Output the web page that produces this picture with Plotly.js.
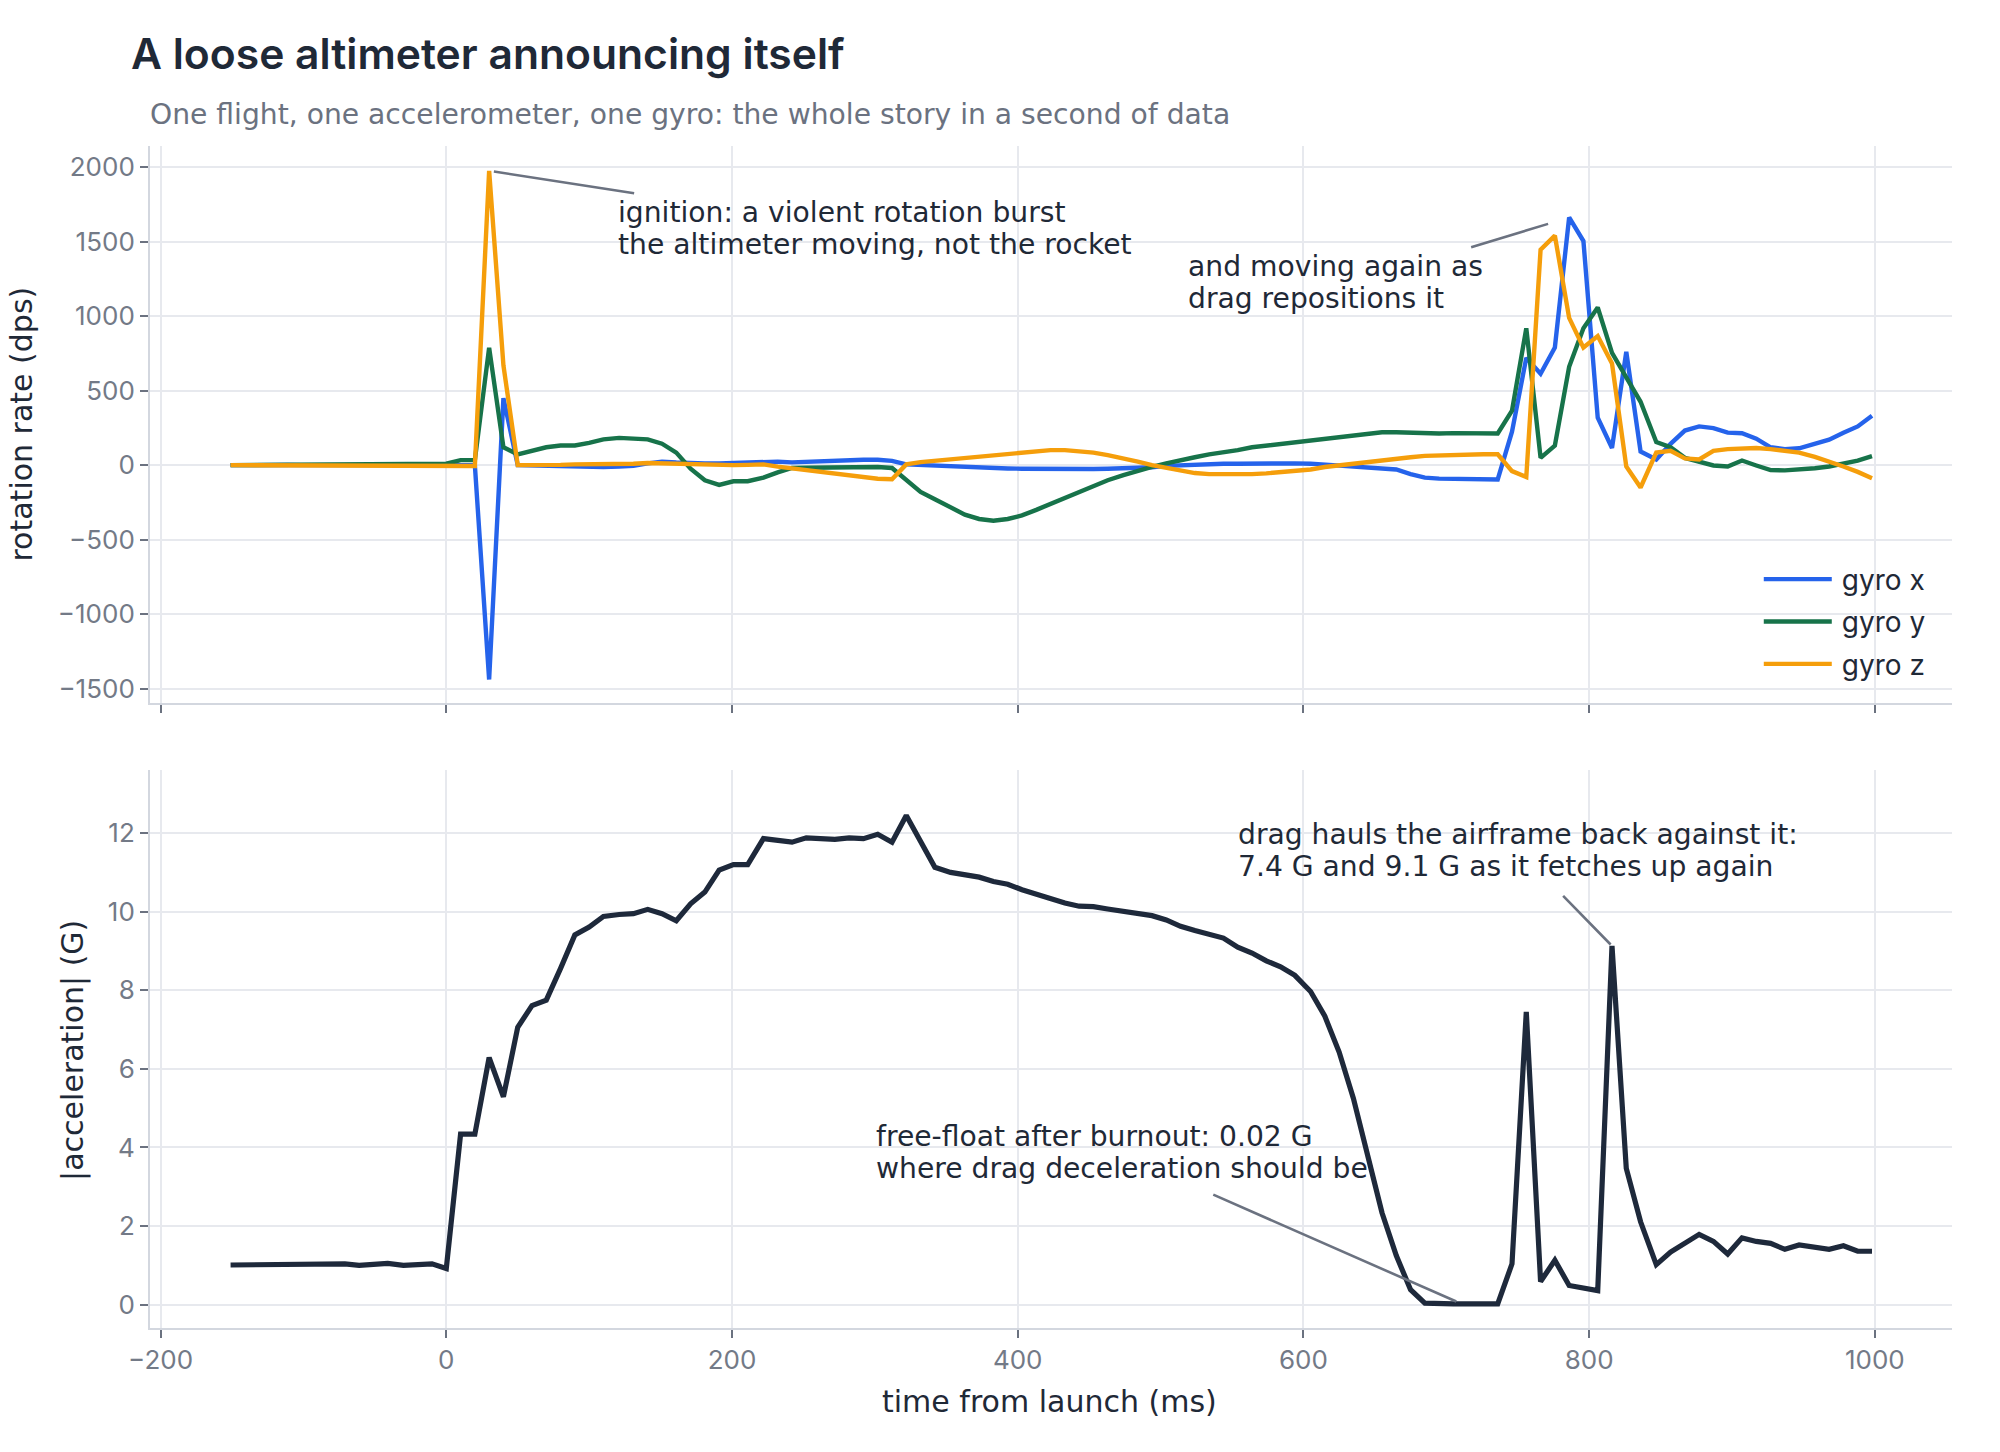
<!DOCTYPE html>
<html>
<head>
<meta charset="utf-8">
<script src="https://cdn.plot.ly/plotly-3.0.1.min.js"></script>
<style>
  html { margin: 0; padding: 0; overflow: hidden; background: #ffffff; }
  body { margin: 0; padding: 0; width: 2000px; height: 1452px; background: #ffffff; }
  #chart { width: 1000px; height: 726px; transform: scale(2); transform-origin: 0 0; }
</style>
</head>
<body>
<div id="chart"></div>
<script>
// flight log, one sample every ~10 ms ---------------------------------------
const t_ms = [
  -151, -141, -131, -121, -111, -101, -91, -81, -71, -61,
  -51, -41, -30, -20, -10, 0, 10, 20, 30, 40,
  50, 60, 70, 80, 90, 100, 110, 121, 131, 141,
  151, 161, 171, 181, 191, 201, 211, 222, 232, 242,
  252, 262, 272, 282, 292, 302, 312, 322, 332, 342,
  353, 363, 373, 383, 393, 403, 413, 423, 433, 443,
  453, 463, 474, 484, 494, 504, 514, 524, 534, 544,
  554, 564, 574, 584, 594, 605, 615, 625, 635, 645,
  655, 665, 675, 685, 695, 705, 715, 726, 736, 746,
  756, 766, 776, 786, 796, 806, 816, 826, 836, 847,
  857, 867, 877, 887, 897, 907, 917, 927, 937, 947,
  958, 968, 978, 988, 998
];

const gyro_x = [
  0, 2, -1, 0, 1, 0, -2, 1, 0, 0,
  0, 1, 0, -1, 0, 0, 0, 0, -1438, 450,
  0, -3, -4, -5, -5, -8, -12, -10, -5, 12,
  24, 18, 12, 12, 12, 17, 17, 24, 24, 19,
  24, 29, 34, 36, 36, 36, 29, 5, 0, -5,
  -5, -10, -14, -19, -22, -24, -26, -26, -29, -29,
  -26, -24, -24, -19, -14, -5, 0, 5, 7, 10,
  10, 12, 12, 12, 12, 10, 5, 0, -5, -10,
  -14, -29, -60, -84, -90, -92, -94, -94, -96, 225,
  720, 613, 789, 1662, 1504, 319, 115, 760, 92, 38,
  143, 232, 260, 249, 218, 214, 178, 120, 108, 113,
  138, 171, 218, 260, 331
];

const gyro_y = [
  0, 1, 0, 0, 1, 2, 2, 3, 3, 4,
  4, 5, 5, 6, 8, 10, 34, 34, 788, 120,
  72, 96, 120, 132, 132, 149, 173, 183, 180, 173,
  144, 84, -24, -101, -132, -108, -108, -84, -48, -19,
  -17, -14, -12, -10, -10, -12, -19, -96, -180, -228,
  -288, -332, -361, -373, -361, -337, -300, -260, -216, -180,
  -144, -101, -67, -36, -12, 12, 36, 53, 72, 84,
  101, 120, 132, 144, 156, 168, 180, 192, 204, 214,
  221, 221, 216, 212, 212, 215, 214, 213, 213, 366,
  918, 49, 131, 660, 918, 1058, 753, 589, 425, 155,
  120, 49, 26, -2, -9, 31, -2, -33, -35, -33,
  -21, -9, 7, 31, 61
];

const gyro_z = [
  0, 0, 0, 0, 0, 0, 0, 0, 0, 0,
  0, 0, 0, 0, 0, 0, -2, -5, 1975, 670,
  0, -2, 0, 2, 5, 5, 3, 0, 10, 15,
  12, 5, 3, 0, 0, 0, 2, 5, -10, -22,
  -36, -48, -60, -72, -84, -91, -95, 5, 20, 29,
  38, 48, 58, 70, 82, 89, 96, 101, 101, 96,
  84, 67, 48, 24, 0, -19, -38, -53, -60, -62,
  -62, -60, -55, -48, -38, -29, -12, 0, 12, 24,
  34, 41, 53, 62, 67, 68, 70, 73, 73, -40,
  -80, 1446, 1540, 988, 789, 866, 683, -9, -150, 84,
  96, 45, 38, 96, 108, 115, 115, 108, 101, 84,
  56, 26, -9, -45, -87
];

const accel_g = [
  1.01, 1.01, 1.01, 1.02, 1.04, 1.01, 1.01, 1.01, 1.04, 1.00,
  1.02, 1.05, 1.00, 1.02, 1.04, 0.92, 4.34, 4.34, 6.29, 5.29,
  7.06, 7.61, 7.75, 8.56, 9.41, 9.61, 9.88, 9.93, 9.95, 10.06,
  9.95, 9.77, 10.2, 10.5, 11.06, 11.2, 11.2, 11.86, 11.83, 11.77,
  11.88, 11.85, 11.84, 11.88, 11.86, 11.97, 11.77, 12.45, 11.79, 11.13,
  11.0, 10.95, 10.88, 10.77, 10.7, 10.56, 10.44, 10.33, 10.22, 10.14,
  10.13, 10.07, 10.0, 9.97, 9.9, 9.79, 9.63, 9.52, 9.42, 9.33,
  9.1, 8.95, 8.75, 8.6, 8.38, 7.97, 7.34, 6.43, 5.25, 3.79,
  2.34, 1.25, 0.38, 0.04, 0.02, 0.02, 0.02, 0.02, 0.02, 1.04,
  7.45, 0.59, 1.13, 0.49, 0.43, 0.36, 9.13, 3.47, 2.11, 1.02,
  1.34, 1.56, 1.79, 1.61, 1.29, 1.7, 1.61, 1.56, 1.41, 1.52,
  1.47, 1.41, 1.5, 1.36, 1.36
];

const gyro_names = ["gyro x", "gyro y", "gyro z"];
const gyro_colors = ["#2563eb", "#17734a", "#f59e0b"];

// styling ---------------------------------------------------------------------
const FONT = "Inter, 'Noto Sans', sans-serif";
const WIDE = "'DejaVu Sans', Inter, sans-serif";
const INK = "#1f2937";
const MUTED = "#6b7280";
const GRID = "#e7e9ee";
const AXLINE = "#d3d7df";

const gyro_series = [gyro_x, gyro_y, gyro_z];
const traces = gyro_series.map((vals, i) => ({
  x: t_ms,
  y: vals,
  name: gyro_names[i],
  type: "scatter",
  mode: "lines",
  line: { color: gyro_colors[i], width: 2.2 },
  xaxis: "x2",
  yaxis: "y2",
  hoverinfo: "skip",
}));

traces.push({
  x: t_ms,
  y: accel_g,
  name: "acceleration",
  type: "scatter",
  mode: "lines",
  line: { color: "#1e293b", width: 2.6 },
  xaxis: "x",
  yaxis: "y",
  showlegend: false,
  hoverinfo: "skip",
});

function axisStyle(extra) {
  return Object.assign({
    showgrid: true,
    gridcolor: GRID,
    gridwidth: 1,
    zeroline: false,
    showline: true,
    linecolor: AXLINE,
    linewidth: 1,
    ticks: "outside",
    ticklen: 4,
    tickcolor: MUTED,
    tickfont: { family: FONT, size: 13, color: "#737a87" },
  }, extra);
}

const annFont = { family: WIDE, size: 14.1, color: INK };

// one annotation per text line so the line spacing can follow the original
function note(xref, yref, x, y, text) {
  return { text: text, xref: xref, yref: yref, x: x, y: y, xanchor: "left", yanchor: "middle",
           showarrow: false, font: annFont };
}
function pointer(xref, yref, x, y, ax, ay, standoff) {
  return { text: "", xref: xref, yref: yref, x: x, y: y, ax: ax, ay: ay, standoff: standoff,
           showarrow: true, arrowhead: 0, arrowwidth: 1.3, arrowcolor: MUTED };
}
function axisTitle(x, y, angle, text) {
  return { text: text, xref: "paper", yref: "paper", x: x, y: y, xanchor: "center", yanchor: "middle",
           textangle: angle, showarrow: false, font: { family: WIDE, size: 15, color: INK } };
}

const layout = {
  width: 1000,
  height: 726,
  margin: { l: 75, r: 24, t: 72.5, b: 62 },
  paper_bgcolor: "#ffffff",
  plot_bgcolor: "#ffffff",
  font: { family: FONT, color: INK },
  title: {
    text: "A loose altimeter announcing itself",
    font: { family: FONT, size: 21.3, color: INK, weight: 600 },
    xref: "container",
    yref: "container",
    x: 0.0655,
    xanchor: "left",
    y: 0.963,
    yanchor: "middle",
  },
  showlegend: true,
  legend: {
    x: 0.89,
    xanchor: "left",
    y: 0.66,
    yanchor: "top",
    itemwidth: 34,
    bgcolor: "rgba(255,255,255,0)",
    font: { family: FONT, size: 14, color: INK },
  },
  xaxis: axisStyle({
    anchor: "y",
    domain: [0, 1],
    range: [-207.4, 1054],
    dtick: 200,
  }),
  xaxis2: axisStyle({
    anchor: "y2",
    domain: [0, 1],
    range: [-207.4, 1054],
    dtick: 200,
    showticklabels: false,
  }),
  yaxis: axisStyle({
    anchor: "x",
    domain: [0, 0.4722],
    range: [-0.593, 13.61],
    dtick: 2,
  }),
  yaxis2: axisStyle({
    anchor: "x2",
    domain: [0.5286, 1],
    range: [-1597, 2141.4],
    dtick: 500,
  }),
  annotations: [
    {
      text: "One flight, one accelerometer, one gyro: the whole story in a second of data",
      xref: "paper", yref: "paper", x: -0.002, y: 1.0265,
      xanchor: "left", yanchor: "middle", showarrow: false,
      font: { family: WIDE, size: 14.1, color: MUTED },
    },
    axisTitle(-0.0705, 0.7643, -90, "rotation rate (dps)"),
    axisTitle(-0.0422, 0.2361, -90, "|acceleration| (G)"),
    axisTitle(0.4988, -0.0622, 0, "time from launch (ms)"),
    note("x2", "y2", 118, 1703, "ignition: a violent rotation burst"),
    note("x2", "y2", 118, 1488, "the altimeter moving, not the rocket"),
    pointer("x2", "y2", 30, 1975, 74, 11.5, 2.4),
    note("x2", "y2", 517, 1334, "and moving again as"),
    note("x2", "y2", 517, 1121, "drag repositions it"),
    pointer("x2", "y2", 786, 1662, -50.5, 15.4, 11),
    note("x", "y", 552, 11.96, "drag hauls the airframe back against it:"),
    note("x", "y", 552, 11.15, "7.4 G and 9.1 G as it fetches up again"),
    pointer("x", "y", 816, 9.13, -25.9, -26.5, 1),
    note("x", "y", 298, 4.27, "free-float after burnout: 0.02 G"),
    note("x", "y", 298, 3.46, "where drag deceleration should be"),
    pointer("x", "y", 707, 0.08, -123, -54.1, 0),
  ],
};

Plotly.newPlot("chart", traces, layout, { displayModeBar: false });
</script>
</body>
</html>
